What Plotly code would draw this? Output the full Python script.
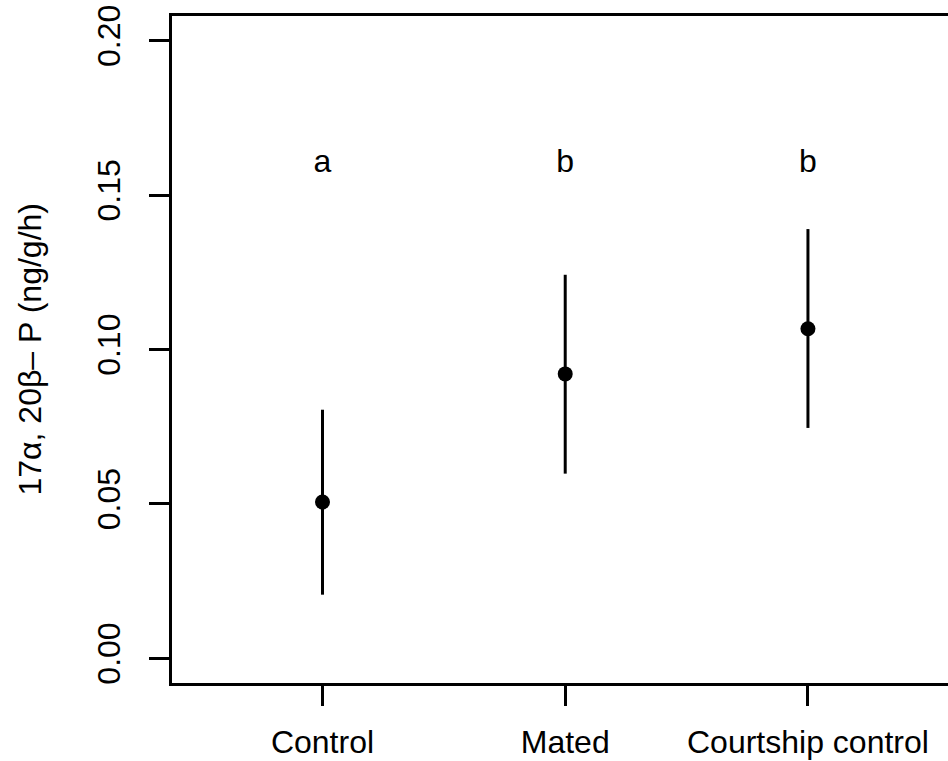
import plotly.graph_objects as go

categories = ["Control", "Mated", "Courtship control"]
x_pos = [1, 2, 3]
means = [0.0506, 0.0921, 0.1067]
lower = [0.0206, 0.0598, 0.0746]
upper = [0.0805, 0.1242, 0.1390]
letters = ["a", "b", "b"]
letter_y = [0.16, 0.16, 0.16]
y_ticks = [0.00, 0.05, 0.10, 0.15, 0.20]
y_tick_labels = ["0.00", "0.05", "0.10", "0.15", "0.20"]

FONT = "Liberation Sans, Arial, sans-serif"
FS = 32

fig = go.Figure()
fig.add_trace(go.Scatter(
    x=x_pos, y=means, mode="markers",
    marker=dict(color="black", size=15),
    error_y=dict(type="data", symmetric=False,
                 array=[u - m for u, m in zip(upper, means)],
                 arrayminus=[m - l for m, l in zip(means, lower)],
                 width=0, thickness=3, color="black"),
    showlegend=False, hoverinfo="skip",
))
fig.add_trace(go.Scatter(
    x=x_pos, y=letter_y, mode="text", text=letters,
    textfont=dict(family=FONT, size=FS, color="black"),
    textposition="middle center", showlegend=False, hoverinfo="skip",
))

fig.update_layout(
    template="none",
    width=948, height=761,
    margin=dict(l=172, r=0, t=16, b=78, autoexpand=False),
    paper_bgcolor="white", plot_bgcolor="white",
    font=dict(family=FONT, size=FS, color="black"),
    xaxis=dict(range=[0.38, 3.577], tickmode="array", tickvals=x_pos,
               ticktext=categories, showgrid=False, zeroline=False,
               automargin=False,
               showline=True, linecolor="black", linewidth=3, mirror=True,
               ticks="outside", ticklen=20, tickwidth=3, tickcolor="black",
               ticklabelstandoff=9,
               tickfont=dict(family=FONT, size=FS, color="black")),
    yaxis=dict(range=[-0.008, 0.208], tickmode="array", tickvals=y_ticks,
               ticktext=y_tick_labels, showgrid=False, zeroline=False,
               automargin=False,
               showline=True, linecolor="black", linewidth=3, mirror=False,
               ticks="outside", ticklen=20, tickwidth=3, tickcolor="black",
               tickangle=-90, ticklabelstandoff=16,
               tickfont=dict(family=FONT, size=FS, color="black")),
    annotations=[dict(text="17α, 20β– P (ng/g/h)", xref="paper", yref="paper",
                      x=(29 - 172) / 776, y=0.5, xanchor="center", yanchor="middle",
                      textangle=-90, showarrow=False,
                      font=dict(family=FONT, size=FS, color="black"))],
)

fig.write_html(
    "out.html",
    config={"displayModeBar": False},
    post_script="document.body.style.margin='0';document.body.style.overflow='hidden';",
)
